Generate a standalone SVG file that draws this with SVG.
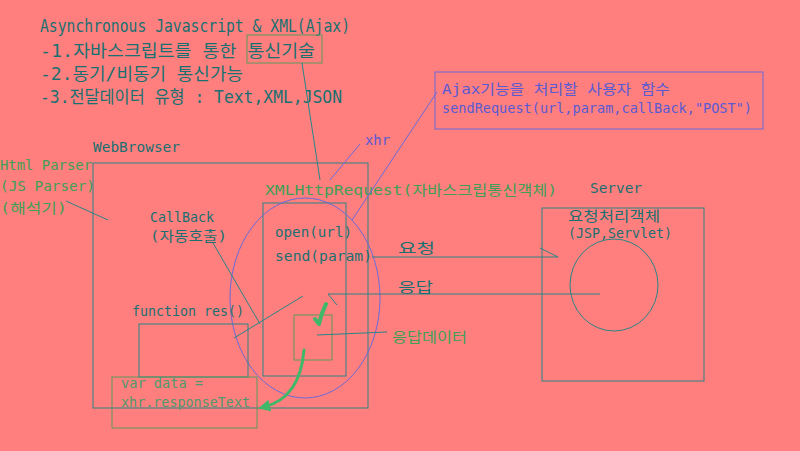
<svg xmlns="http://www.w3.org/2000/svg" width="800" height="451" viewBox="0 0 800 451">
<defs>
<style>
.t{font-family:"DejaVu Sans Mono","Liberation Mono","Noto Sans CJK KR",monospace;font-size:14px;fill:#1a7070}
.g{fill:#3f9f55}
.b{fill:#5a5ad2}
.big{font-size:17px}
.box{fill:none;stroke:#2a8585;stroke-width:1}
.gbox{fill:none;stroke:#5c9a5c;stroke-width:1}
.ln{fill:none;stroke:#2a8585;stroke-width:1}
.bl{fill:none;stroke:#6a6ad8;stroke-width:1}
.ga{fill:none;stroke:#3fb86a;stroke-width:3;stroke-linecap:round}
</style>
<marker id="gh" viewBox="0 0 10 10" refX="5" refY="5" markerWidth="4" markerHeight="4" orient="auto-start-reverse">
<path d="M0 0 L10 5 L0 10 z" fill="#3fb86a"/>
</marker>
</defs>
<rect width="800" height="451" fill="#FF7F7F"/>

<g id="title">
<text class="t big" x="40" y="32" textLength="310" lengthAdjust="spacingAndGlyphs">Asynchronous Javascript &amp; XML(Ajax)</text>
<text class="t big" x="40" y="57" textLength="275" lengthAdjust="spacingAndGlyphs">-1.자바스크립트를 통한 통신기술</text>
<rect class="gbox" x="247" y="35" width="75" height="28"/>
<text class="t big" x="40" y="80" textLength="203" lengthAdjust="spacingAndGlyphs">-2.동기/비동기 통신가능</text>
<text class="t big" x="40" y="103" textLength="302" lengthAdjust="spacingAndGlyphs">-3.전달데이터 유형 : Text,XML,JSON</text>
</g>

<g id="ajax-note">
<rect class="bl" x="435" y="72" width="328" height="57"/>
<text class="t b" x="442" y="94" textLength="228" lengthAdjust="spacingAndGlyphs">Ajax기능을 처리할 사용자 함수</text>
<text class="t b" x="442" y="113" textLength="310" lengthAdjust="spacingAndGlyphs">sendRequest(url,param,callBack,"POST")</text>
</g>

<g id="xhr-label">
<text class="t b" x="365" y="145" textLength="25" lengthAdjust="spacingAndGlyphs">xhr</text>
</g>

<g id="html-parser">
<text class="t g" x="0" y="170" textLength="92" lengthAdjust="spacingAndGlyphs">Html Parser</text>
<text class="t g" x="0" y="191" textLength="95" lengthAdjust="spacingAndGlyphs">(JS Parser)</text>
<text class="t g" x="0" y="213" textLength="67" lengthAdjust="spacingAndGlyphs">(해석기)</text>
</g>

<g id="webbrowser">
<text class="t" x="93" y="152" textLength="87" lengthAdjust="spacingAndGlyphs">WebBrowser</text>
<rect class="box" x="93" y="163" width="275" height="245"/>
</g>

<g id="callback">
<text class="t" x="150" y="222" textLength="64" lengthAdjust="spacingAndGlyphs">CallBack</text>
<text class="t" x="150" y="241" textLength="77" lengthAdjust="spacingAndGlyphs">(자동호출)</text>
</g>

<g id="xmlhttprequest">
<text class="t g" x="265" y="195" textLength="292" lengthAdjust="spacingAndGlyphs">XMLHttpRequest(자바스크립통신객체)</text>
<rect class="box" x="263" y="203" width="83" height="173"/>
<text class="t" x="275" y="237" textLength="77" lengthAdjust="spacingAndGlyphs">open(url)</text>
<text class="t" x="275" y="261" textLength="97" lengthAdjust="spacingAndGlyphs">send(param)</text>
<ellipse class="bl" cx="305" cy="298" rx="75" ry="100"/>
</g>

<g id="response-data">
<rect class="gbox" x="294" y="315" width="38" height="45"/>
<text class="t g" x="392" y="342" textLength="75" lengthAdjust="spacingAndGlyphs">응답데이터</text>
</g>

<g id="function-res">
<text class="t" x="132" y="316" textLength="112" lengthAdjust="spacingAndGlyphs">function res()</text>
<rect class="box" x="139" y="324" width="109" height="53"/>
</g>

<g id="var-data">
<rect class="gbox" x="112" y="377" width="145" height="51"/>
<text class="t" x="121" y="388" textLength="82" lengthAdjust="spacingAndGlyphs" style="fill:#4f9a6a">var data =</text>
<text class="t" x="121" y="407" textLength="129" lengthAdjust="spacingAndGlyphs" style="fill:#4f9a6a">xhr.responseText</text>
</g>

<g id="server">
<text class="t" x="590" y="193" textLength="52" lengthAdjust="spacingAndGlyphs">Server</text>
<rect class="box" x="542" y="208" width="162" height="173"/>
<text class="t" x="568" y="221" textLength="92" lengthAdjust="spacingAndGlyphs">요청처리객체</text>
<text class="t" x="568" y="238" textLength="104" lengthAdjust="spacingAndGlyphs">(JSP,Servlet)</text>
<ellipse class="ln" cx="614" cy="285" rx="44" ry="46"/>
</g>

<g id="connectors">
<line class="ln" x1="302" y1="63" x2="320" y2="180"/>
<line class="bl" x1="437" y1="92" x2="352" y2="220"/>
<line class="bl" x1="360" y1="144" x2="330" y2="180"/>
<line class="ln" x1="66" y1="201" x2="108" y2="220"/>
<line class="ln" x1="213" y1="243" x2="260" y2="324"/>
<line class="ln" x1="372" y1="257" x2="558" y2="257"/>
<line class="ln" x1="540" y1="248" x2="558" y2="257"/>
<text class="t" x="398" y="253" textLength="37" lengthAdjust="spacingAndGlyphs">요청</text>
<line class="ln" x1="328" y1="294" x2="600" y2="294"/>
<line class="ln" x1="328" y1="294" x2="337" y2="305"/>
<text class="t" x="398" y="292" textLength="35" lengthAdjust="spacingAndGlyphs">응답</text>
<line class="ln" x1="303" y1="296" x2="234" y2="338"/>
<line class="ln" x1="317" y1="335" x2="387" y2="332"/>
<path class="ga" d="M326 304 Q321 314 319 324 M315 319 L319 324" style="stroke-width:4"/>
<path class="ga" d="M304 350 Q300 398 264 407" marker-end="url(#gh)"/>
</g>
</svg>
